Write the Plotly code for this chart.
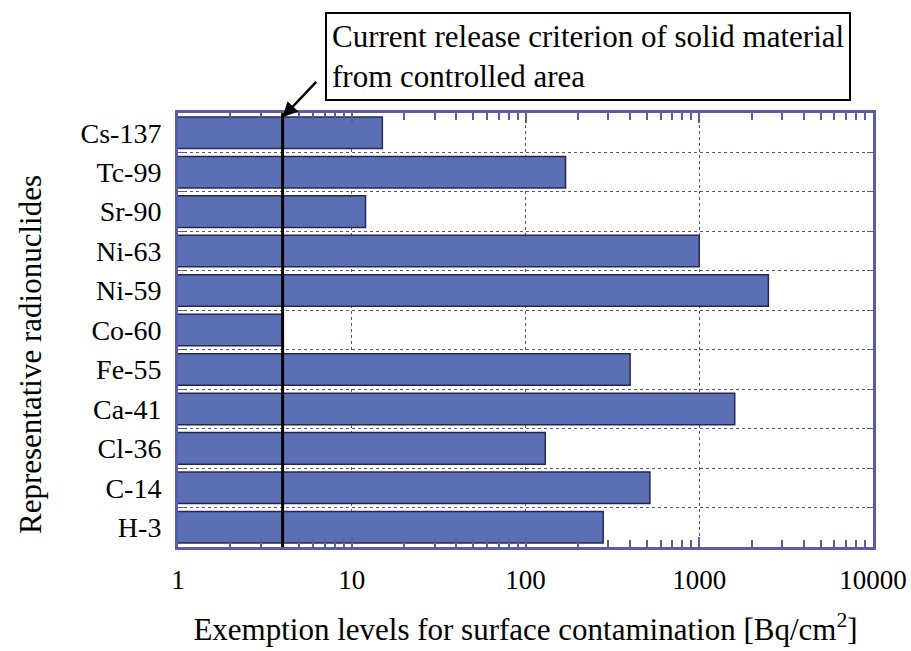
import math
import plotly.graph_objects as go

nuclides = ["Cs-137", "Tc-99", "Sr-90", "Ni-63", "Ni-59", "Co-60",
            "Fe-55", "Ca-41", "Cl-36", "C-14", "H-3"]
exemption_levels = [15, 170, 12, 1000, 2500, 4, 400, 1600, 130, 520, 280]
release_criterion = 4
x_range_log = [0, 4]

FONT = '"Liberation Serif", "Times New Roman", Times, "DejaVu Serif", serif'
BAR = "#5b6fb4"
FRAME = "#5a5ca4"
GRID = "#4f52a0"

fig = go.Figure()
fig.add_trace(go.Bar(
    y=nuclides, x=exemption_levels, orientation="h",
    marker=dict(color=BAR, line=dict(color="#26284f", width=1.5)),
    showlegend=False,
))

fig.add_shape(type="line", xref="x", yref="y domain",
              x0=release_criterion, x1=release_criterion,
              y0=0, y1=1, line=dict(color="black", width=3), layer="above")

# arrow
fig.add_annotation(x=math.log10(release_criterion), y=0.99, xref="x", yref="paper",
                   text="", showarrow=True, arrowhead=2, arrowsize=1.2,
                   arrowwidth=2.5, arrowcolor="black", ax=35, ay=-37)
# box
fig.add_annotation(x=(325 - 178) / (873 - 178), y=1 + (113 - 12) / (547 - 113),
                   xref="paper", yref="paper",
                   text="Current release criterion of solid material<br>from controlled area",
                   showarrow=False, align="left", xanchor="left", yanchor="top",
                   font=dict(family=FONT, size=31, color="black"),
                   bordercolor="black", borderwidth=2, borderpad=5,
                   bgcolor="white")
# y-axis title
fig.add_annotation(x=-(178 - 30) / (873 - 178), y=(547 - 355) / (547 - 113),
                   xref="paper", yref="paper", text="Representative radionuclides",
                   textangle=-90, showarrow=False, xanchor="center", yanchor="middle",
                   font=dict(family=FONT, size=31, color="black"))

fig.update_layout(
    width=911, height=651,
    margin=dict(l=178, r=38, t=113, b=104),
    paper_bgcolor="white", plot_bgcolor="white",
    bargap=0.2,
    font=dict(family=FONT, size=27, color="black"),
    xaxis=dict(
        type="log", range=x_range_log, automargin=False,
        tickmode="linear", tick0=0, dtick=1, tickformat="d",
        ticks="inside", ticklen=10, tickcolor=FRAME, tickwidth=1.5,
        minor=dict(ticks="inside", dtick="D1", ticklen=7, tickcolor=FRAME,
                   tickwidth=1.5, showgrid=False),
        showgrid=True, gridcolor=GRID, griddash="dot", gridwidth=1,
        showline=True, linecolor=FRAME, linewidth=3, mirror="allticks",
        ticklabelstandoff=7,
        tickfont=dict(family=FONT, size=27),
        title=dict(text="Exemption levels for surface contamination [Bq/cm<sup>2</sup>]",
                   font=dict(family=FONT, size=31), standoff=24),
        zeroline=False,
    ),
    yaxis=dict(
        type="category", autorange="reversed", automargin=False,
        tickson="boundaries",
        ticks="inside", ticklen=6, tickcolor=FRAME,
        showgrid=True, gridcolor=GRID, griddash="dot", gridwidth=1,
        showline=True, linecolor=FRAME, linewidth=3, mirror="allticks",
        ticklabelstandoff=8,
        tickfont=dict(family=FONT, size=28),
    ),
)

fig.write_html("out.html", config={"displayModeBar": False},
               post_script="document.body.style.margin='0';document.body.style.padding='0';")
